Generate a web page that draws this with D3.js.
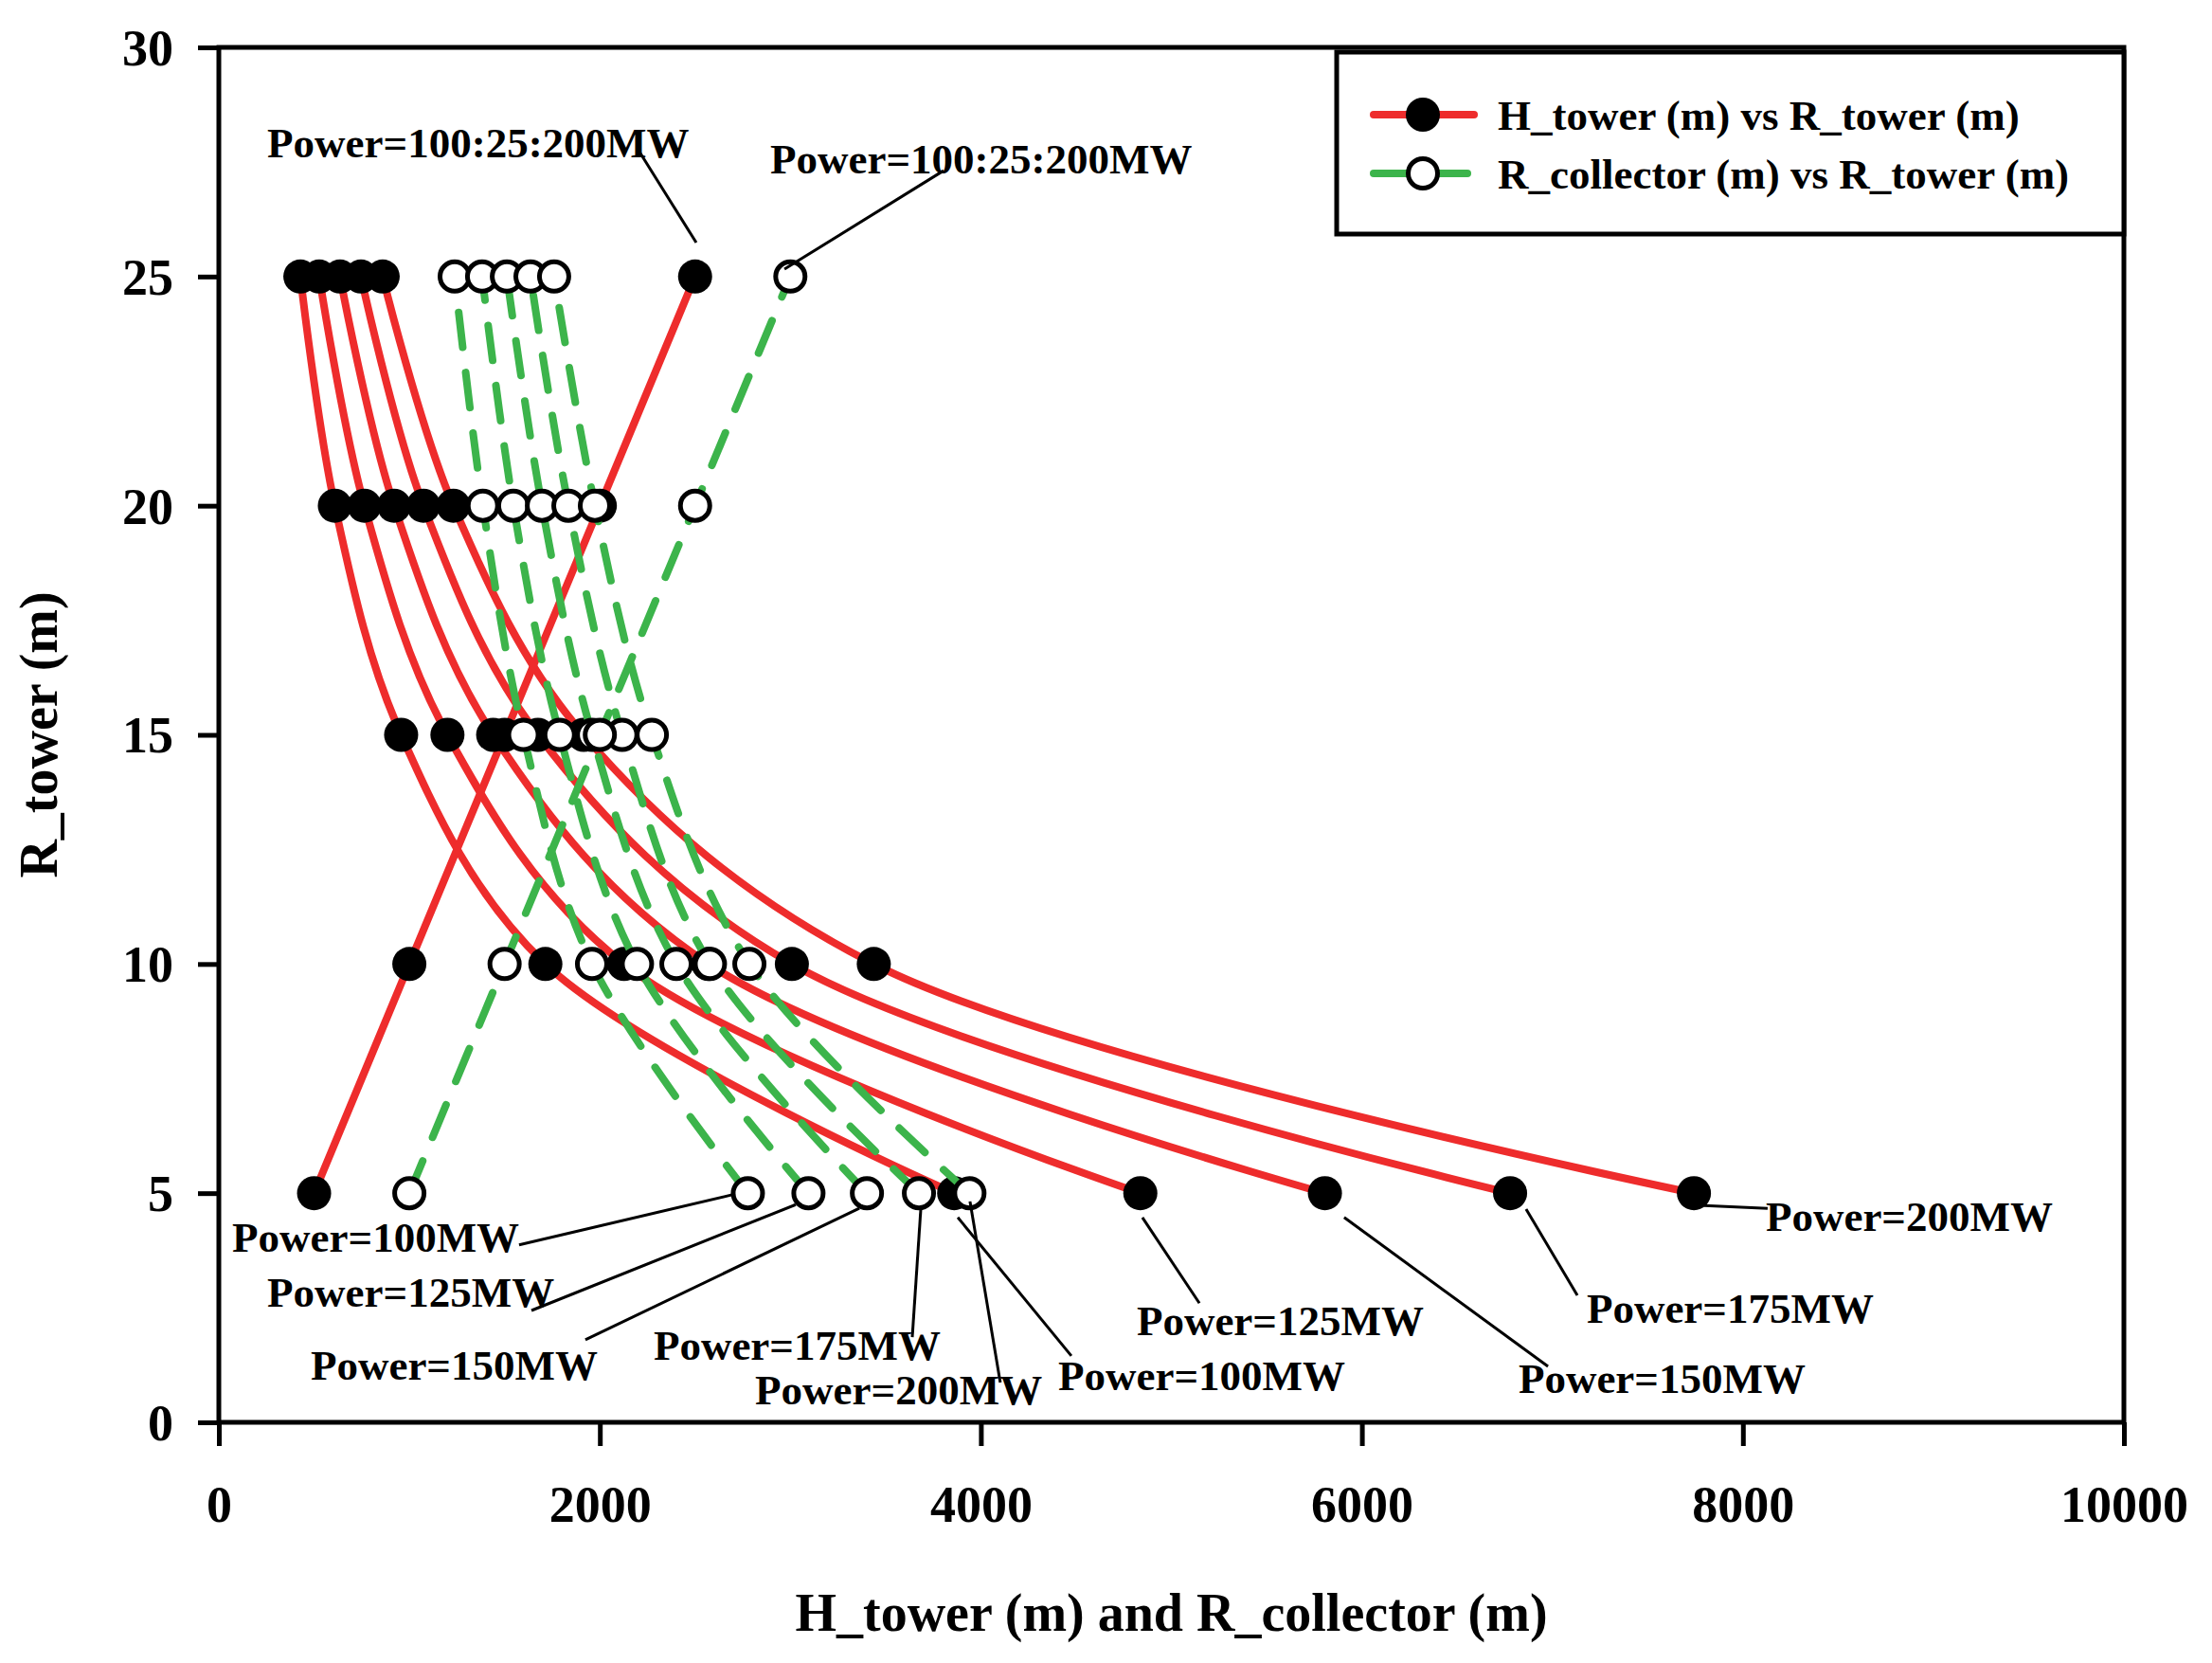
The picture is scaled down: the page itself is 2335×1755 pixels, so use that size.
<!DOCTYPE html>
<html>
<head>
<meta charset="utf-8">
<script src="https://cdn.jsdelivr.net/npm/d3@7"></script>
<style>
	body { margin: 0; background: #fff; }
	text { font-family: 'Liberation Serif', 'Times New Roman', serif; font-weight: bold; }
</style>
</head>
<body>
<svg id="chart" width="2335" height="1755"></svg>
<script>
'use strict';

// R_tower values shared by every curve
const rTower = [5, 10, 15, 20, 25];
const powers = [100, 125, 150, 175, 200];

// H_tower (m), one array per power
const hTower100 = [3860, 1714, 957, 609, 428];
const hTower125 = [4837, 2127, 1200, 764, 527];
const hTower150 = [5806, 2570, 1440, 920, 636];
const hTower175 = [6778, 3008, 1675, 1074, 746];
const hTower200 = [7743, 3438, 1915, 1231, 860];

// R_collector (m), one array per power
const rColl100 = [2777, 1959, 1599, 1386, 1238];
const rColl125 = [3095, 2195, 1789, 1546, 1382];
const rColl150 = [3402, 2402, 1960, 1696, 1512];
const rColl175 = [3675, 2578, 2117, 1835, 1636];
const rColl200 = [3940, 2785, 2273, 1974, 1760];

// the two "Power=100:25:200MW" lines
const hTowerSweep = [500, 1000, 1500, 2000, 2500];
const rCollSweep = [1000, 1500, 2000, 2500, 3000];

const xTicks = [0, 2000, 4000, 6000, 8000, 10000];
const yTicks = [0, 5, 10, 15, 20, 25, 30];
const legendLabels = ['H_tower (m) vs R_tower (m)', 'R_collector (m) vs R_tower (m)'];

const redColor = '#ee2c2c';
const greenColor = '#3cb44b';

const svg = d3.select('#chart');
const x = d3.scaleLinear().domain([0, 10000]).range([231, 2242]);
const y = d3.scaleLinear().domain([0, 30]).range([1501, 50]);

const redSeries = [hTower100, hTower125, hTower150, hTower175, hTower200, hTowerSweep];
const greenSeries = [rColl100, rColl125, rColl150, rColl175, rColl200, rCollSweep];

const toPoints = values => values.map((v, i) => [v, rTower[i]]);
const line = d3.line()
	.x(d => x(d[0]))
	.y(d => y(d[1]))
	.curve(d3.curveCatmullRom.alpha(0.5));

// red curves + filled markers
const gRed = svg.append('g');
gRed.selectAll('path')
	.data(redSeries)
	.join('path')
	.attr('d', d => line(toPoints(d)))
	.attr('fill', 'none')
	.attr('stroke', redColor)
	.attr('stroke-width', 8);
redSeries.forEach(s => {
	gRed.append('g').selectAll('circle')
		.data(toPoints(s))
		.join('circle')
		.attr('cx', d => x(d[0]))
		.attr('cy', d => y(d[1]))
		.attr('r', 18)
		.attr('fill', '#000');
});

// green dashed curves + hollow markers
const gGreen = svg.append('g');
gGreen.selectAll('path')
	.data(greenSeries)
	.join('path')
	.attr('d', d => line(toPoints(d)))
	.attr('fill', 'none')
	.attr('stroke', greenColor)
	.attr('stroke-width', 8)
	.attr('stroke-linecap', 'round')
	.attr('stroke-dasharray', '37,27');
greenSeries.forEach(s => {
	gGreen.append('g').selectAll('circle')
		.data(toPoints(s))
		.join('circle')
		.attr('cx', d => x(d[0]))
		.attr('cy', d => y(d[1]))
		.attr('r', 15.5)
		.attr('fill', '#fff')
		.attr('stroke', '#000')
		.attr('stroke-width', 5);
});

// axes
const xAxis = svg.append('g')
	.attr('transform', `translate(0,${y(0)})`)
	.call(d3.axisBottom(x).tickValues(xTicks).tickSize(25).tickPadding(42).tickFormat(d3.format('d')));
const yAxis = svg.append('g')
	.attr('transform', `translate(${x(0)},0)`)
	.call(d3.axisLeft(y).tickValues(yTicks).tickSize(22).tickPadding(26));
[xAxis, yAxis].forEach(a => {
	a.select('.domain').remove();
	a.selectAll('line').attr('stroke', '#000').attr('stroke-width', 5);
	a.selectAll('text').attr('font-size', 54).attr('fill', '#000')
		.attr('font-family', "'Liberation Serif', serif").attr('font-weight', 'bold');
});
yAxis.selectAll('text').attr('dy', '0.34em');

// frame
svg.append('rect')
	.attr('x', x(0)).attr('y', y(30))
	.attr('width', x(10000) - x(0)).attr('height', y(0) - y(30))
	.attr('fill', 'none').attr('stroke', '#000').attr('stroke-width', 5);

// axis titles
svg.append('text')
	.attr('x', (x(0) + x(10000)) / 2).attr('y', 1721)
	.attr('text-anchor', 'middle').attr('font-size', 56)
	.text('H_tower (m) and R_collector (m)');
svg.append('text')
	.attr('transform', `translate(60,${(y(0) + y(30)) / 2}) rotate(-90)`)
	.attr('text-anchor', 'middle').attr('font-size', 56)
	.text('R_tower (m)');

// annotations: label spot and leader ends in data units
const annotations = [
	{ text: 'Power=100:25:200MW', at: [254, 27.60], from: [2208, 27.72], to: [2506, 25.74] },
	{ text: 'Power=100:25:200MW', at: [2894, 27.25], from: [3804, 27.31], to: [2969, 25.16] },
	{ text: 'Power=100MW', at: [70, 3.72], from: [1576, 3.87], to: [2710, 4.98] },
	{ text: 'Power=125MW', at: [254, 2.52], from: [1641, 2.44], to: [3028, 4.75] },
	{ text: 'Power=150MW', at: [482, 0.93], from: [1924, 1.80], to: [3362, 4.67] },
	{ text: 'Power=175MW', at: [2282, 1.36], from: [3640, 1.86], to: [3685, 4.67] },
	{ text: 'Power=200MW', at: [2815, 0.39], from: [4102, 0.87], to: [3943, 4.82] },
	{ text: 'Power=100MW', at: [4406, 0.70], from: [4475, 1.45], to: [3879, 4.47] },
	{ text: 'Power=125MW', at: [4818, 1.90], from: [5147, 2.60], to: [4848, 4.47] },
	{ text: 'Power=150MW', at: [6822, 0.64], from: [6977, 1.22], to: [5907, 4.47] },
	{ text: 'Power=175MW', at: [7180, 2.17], from: [7131, 2.77], to: [6862, 4.65] },
	{ text: 'Power=200MW', at: [8120, 4.18], from: [8130, 4.67], to: [7797, 4.73] }
];
const gAnn = svg.append('g');
gAnn.selectAll('line')
	.data(annotations)
	.join('line')
	.attr('x1', d => x(d.from[0])).attr('y1', d => y(d.from[1]))
	.attr('x2', d => x(d.to[0])).attr('y2', d => y(d.to[1]))
	.attr('stroke', '#000').attr('stroke-width', 3);
gAnn.selectAll('text')
	.data(annotations)
	.join('text')
	.attr('x', d => x(d.at[0])).attr('y', d => y(d.at[1]))
	.attr('font-size', 45)
	.text(d => d.text);

// legend
const legend = svg.append('g');
legend.append('rect')
	.attr('x', 1411).attr('y', 55).attr('width', 2242 - 1411).attr('height', 192)
	.attr('fill', '#fff').attr('stroke', '#000').attr('stroke-width', 5);
const legendRows = legend.selectAll('g.row')
	.data(legendLabels)
	.join('g')
	.attr('class', 'row')
	.attr('transform', (d, i) => `translate(0,${121 + i * 62})`);
legendRows.append('line')
	.attr('x1', 1450).attr('x2', (d, i) => i == 0 ? 1556 : 1549)
	.attr('stroke', (d, i) => i == 0 ? redColor : greenColor)
	.attr('stroke-width', 8).attr('stroke-linecap', 'round');
legendRows.append('circle')
	.attr('cx', 1502)
	.attr('r', (d, i) => i == 0 ? 18 : 15.5)
	.attr('fill', (d, i) => i == 0 ? '#000' : '#fff')
	.attr('stroke', '#000')
	.attr('stroke-width', (d, i) => i == 0 ? 0 : 5);
legendRows.append('text')
	.attr('x', 1581).attr('y', 16)
	.attr('font-size', 45)
	.text(d => d);
</script>
</body>
</html>
